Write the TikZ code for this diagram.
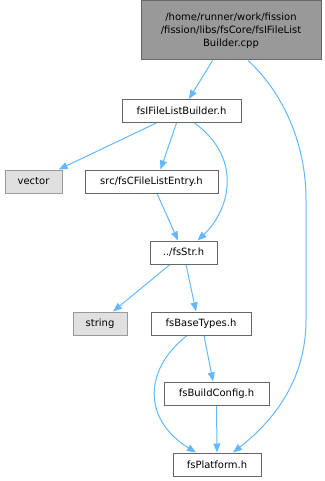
\documentclass[tikz,border=0pt]{standalone}
\usepackage{fontspec}
\setmainfont{DejaVu Sans}
\usetikzlibrary{arrows.meta,calc,backgrounds}
\definecolor{edgeblue}{RGB}{99,184,255}
\definecolor{rootgray}{RGB}{153,153,153}
\definecolor{sysgray}{RGB}{224,224,224}
\definecolor{framegray}{RGB}{102,102,102}

\begin{document}
\begin{tikzpicture}[
  x=1pt, y=-1pt,
  box/.style={draw=framegray, line width=1pt, fill=white, inner sep=0pt,
              minimum height=23pt, align=center, font=\fontsize{10}{13}\selectfont},
  rootbox/.style={box, fill=rootgray, minimum height=59pt},
  sysbox/.style={box, fill=sysgray, draw=rootgray},
  arr/.style={-{Triangle[length=9pt,width=7pt,fill=edgeblue]}, draw=edgeblue, line width=1pt},
]
\useasboundingbox (0,0) rectangle (324,481);

% Files
\node[rootbox, minimum width=180pt] (cpp) at (231,30.5)
  {/home/runner/work/fission\\/fission/libs/fsCore/fsIFileList\\Builder.cpp};
\node[box, minimum width=119pt] (builder) at (181.5,111) {fsIFileListBuilder.h};
\node[sysbox, minimum width=57pt] (vector) at (33.5,181.5) {vector};
\node[box, minimum width=133pt] (entry) at (151.5,181.5) {src/fsCFileListEntry.h};
\node[box, minimum width=67pt] (str) at (183.5,252.5) {../fsStr.h};
\node[sysbox, minimum width=54pt] (string) at (100,323.5) {string};
\node[box, minimum width=100pt] (basetypes) at (201,323.5) {fsBaseTypes.h};
\node[box, minimum width=105pt] (buildcfg) at (216.5,393.5) {fsBuildConfig.h};
\node[box, minimum width=88pt] (platform) at (217,464.5) {fsPlatform.h};

% Includes
\begin{scope}[on background layer]
\draw[arr] (cpp) -- (builder);
\draw[arr] ([xshift=17pt]cpp.south) .. controls (272,82) and (306,130) .. (306,200)
  -- (306,320) .. controls (306,385) and (268,425) .. ([xshift=16pt]platform.north);
\draw[arr] (builder) -- (vector);
\draw[arr] ([xshift=-5pt]builder.south) -- ([xshift=9pt]entry.north);
\draw[arr] ([xshift=13pt]builder.south) .. controls (245,160) and (228,212) .. ([xshift=14pt]str.north);
\draw[arr] ([xshift=5.5pt]entry.south) -- ([xshift=-5.5pt]str.north);
\draw[arr] ([xshift=-13.5pt]str.south) -- ([xshift=13pt]string.north);
\draw[arr] ([xshift=2.5pt]str.south) -- ([xshift=-5pt]basetypes.north);
\draw[arr] ([xshift=-14pt]basetypes.south) .. controls (143,370) and (143,420) .. ([xshift=-21pt]platform.north);
\draw[arr] ([xshift=3pt]basetypes.south) -- ([xshift=-3.5pt]buildcfg.north);
\draw[arr] (buildcfg) -- (platform);
\end{scope}
\end{tikzpicture}
\end{document}
